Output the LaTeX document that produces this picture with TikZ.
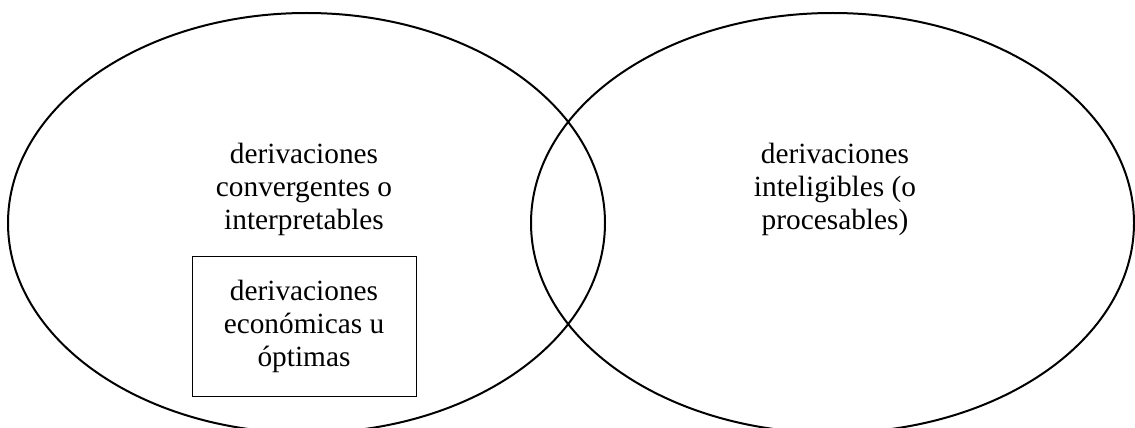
\documentclass[tikz,border=0pt]{standalone}
\usepackage{fontspec}
\setmainfont{Liberation Serif}
\usetikzlibrary{shapes.geometric}

\begin{document}
\begin{tikzpicture}[x=0.75pt,y=-0.75pt,
  set/.style={ellipse,draw,line width=1.5pt,inner sep=0pt,minimum height=315pt},
  settext/.style={align=center,font={\fontsize{22}{24.75}\selectfont}}]
  \useasboundingbox (0,0) rectangle (1135,428);
  \node[set,minimum width=447.75pt] (convset) at (306.5,223) {};
  \node[set,minimum width=452.25pt] (intset) at (832.5,223) {};
  \node[settext] (convtext) at (304,189) {derivaciones\\convergentes o\\interpretables};
  \node[settext] (inttext) at (835,189) {derivaciones\\inteligibles (o\\procesables)};
  \node[settext,draw,line width=0.75pt,minimum width=168pt,minimum height=105pt] (econ) at (304,326) {derivaciones\\económicas u\\óptimas};
\end{tikzpicture}
\end{document}
